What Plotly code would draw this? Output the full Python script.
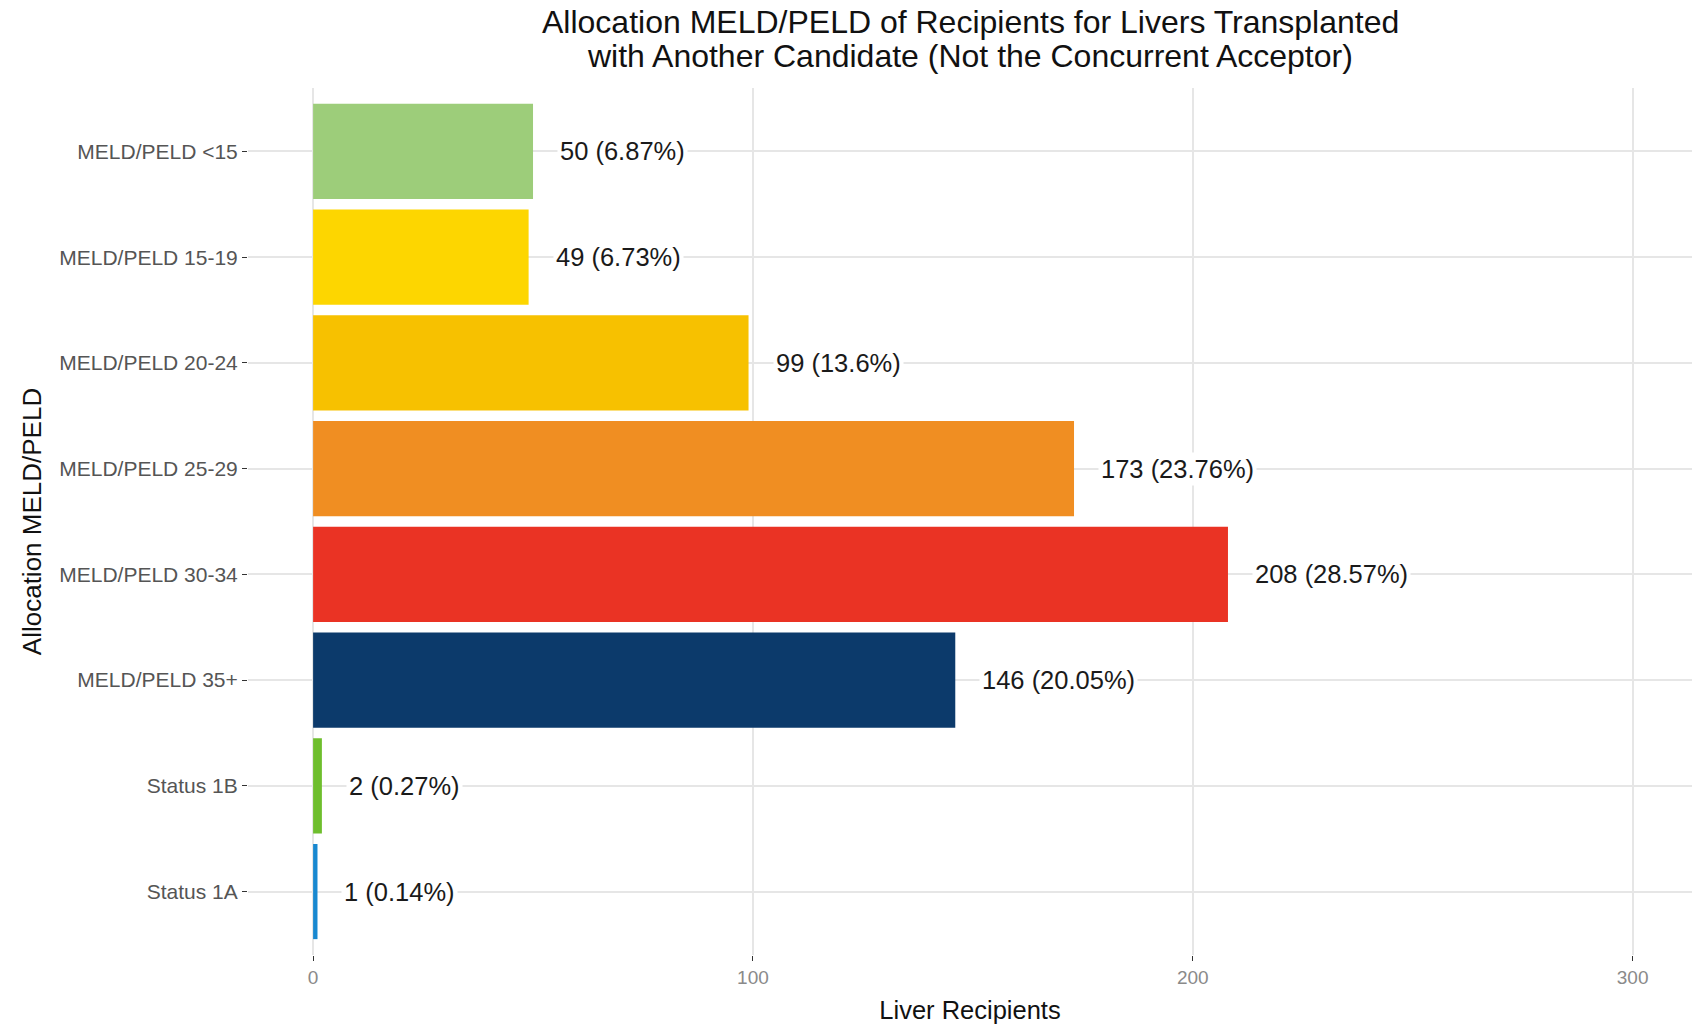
import plotly.graph_objects as go

# Data (top-to-bottom order as shown)
categories = ["MELD/PELD <15", "MELD/PELD 15-19", "MELD/PELD 20-24", "MELD/PELD 25-29",
              "MELD/PELD 30-34", "MELD/PELD 35+", "Status 1B", "Status 1A"]
counts = [50, 49, 99, 173, 208, 146, 2, 1]
percent_labels = ["6.87%", "6.73%", "13.6%", "23.76%", "28.57%", "20.05%", "0.27%", "0.14%"]
bar_colors = ["#9DCD7A", "#FDD600", "#F7C100", "#F08E22", "#EA3324", "#0C3A6B", "#6EBE2D", "#1888D0"]
x_ticks = [0, 100, 200, 300]
title_lines = ["Allocation MELD/PELD of Recipients for Livers Transplanted",
               "with Another Candidate (Not the Concurrent Acceptor)"]

labels = [f"{c} ({p})" for c, p in zip(counts, percent_labels)]

W, H = 1692, 1025
FONT = "Liberation Sans, Arial, sans-serif"

fig = go.Figure()
fig.add_trace(go.Bar(
    x=counts, y=categories, orientation="h",
    marker=dict(color=bar_colors, line=dict(width=0)),
    width=0.9, showlegend=False, hoverinfo="skip",
))

for c, cat, lab in zip(counts, categories, labels):
    fig.add_annotation(
        x=c, y=cat, xref="x", yref="y", text=lab, showarrow=False,
        xanchor="left", yanchor="middle", xshift=24,
        bgcolor="white", borderpad=2,
        font=dict(family=FONT, size=25.5, color="#1a1a1a"),
    )

# Title as two tightly spaced lines (as in the reference)
for line, shift in zip(title_lines, [66, 32]):
    fig.add_annotation(
        x=0.5, y=1, xref="paper", yref="paper", text=line, showarrow=False,
        xanchor="center", yanchor="middle", yshift=shift,
        font=dict(family=FONT, size=32, color="#111111"),
    )

fig.update_layout(
    width=W, height=H,
    margin=dict(l=248, r=0, t=88, b=70, pad=0),
    paper_bgcolor="white", plot_bgcolor="white",
    font=dict(family=FONT),
    bargap=0.1,
)

fig.update_xaxes(
    range=[-14.8, 313.5], tickvals=x_ticks, ticktext=[str(t) for t in x_ticks],
    showgrid=True, gridcolor="#E6E6E6", gridwidth=1.5, zeroline=False,
    showline=False, ticks="outside", ticklen=5, tickcolor="#333333", tickwidth=1,
    tickfont=dict(family=FONT, size=19, color="#8a8a8a"),
    title=dict(text="Liver Recipients", font=dict(family=FONT, size=25.5, color="#111111"), standoff=14),
)
fig.update_yaxes(
    categoryorder="array", categoryarray=categories[::-1],
    range=[-0.6, len(categories) - 0.4],
    showgrid=True, gridcolor="#E6E6E6", gridwidth=1.5, zeroline=False,
    showline=False, ticks="outside", ticklen=5, tickcolor="#333333", tickwidth=1,
    tickfont=dict(family=FONT, size=21, color="#555555"),
    title=dict(text="Allocation MELD/PELD", font=dict(family=FONT, size=26, color="#111111"), standoff=10),
)

fig.write_html("out.html")
